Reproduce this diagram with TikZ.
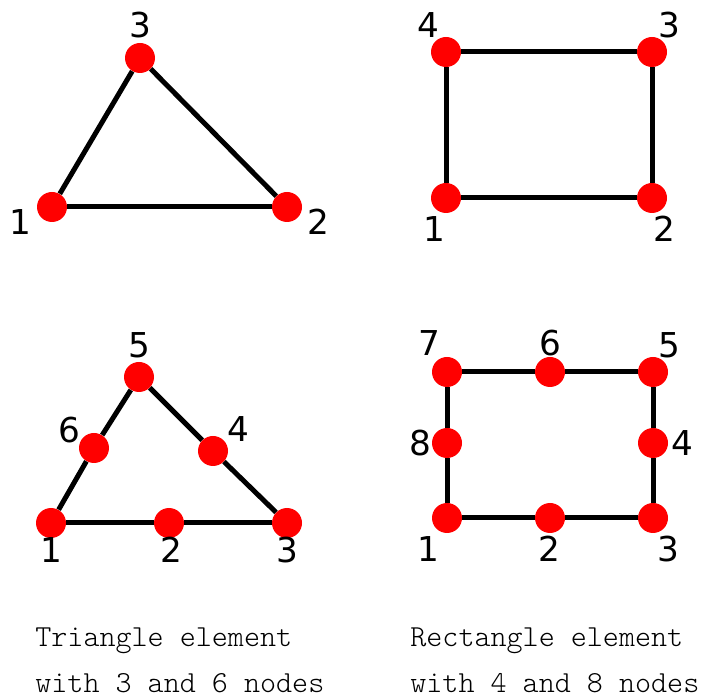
\documentclass[tikz,border=0pt]{standalone}
\usepackage{fontspec}
\newfontfamily\numfont{DejaVu Sans}
\newfontfamily\capfont{Latin Modern Mono Light}
\begin{document}
\begin{tikzpicture}[
        x=0.2mm, y=-0.2mm,
        dot/.style={circle, fill=red, inner sep=0pt, minimum size=6mm},
        edge/.style={line width=1mm, black},
        num/.style={inner sep=0pt, font=\numfont\fontsize{19.5}{20}\selectfont},
        caption/.style={align=left, inner sep=0pt, font=\capfont\fontsize{17.4}{26}\selectfont}
    ]
        \useasboundingbox (0,0) rectangle (715,697);

        % triangle, 3 nodes
        \node[dot] (ta1) at (52,207) {};
        \node[dot] (ta2) at (287,207) {};
        \node[dot] (ta3) at (140,58) {};
        \draw[edge] (ta1) -- (ta2);
        \draw[edge] (ta2) -- (ta3);
        \draw[edge] (ta3) -- (ta1);
        \node[num] (ta1n) at (20,222) {1};
        \node[num] (ta2n) at (318,222) {2};
        \node[num] (ta3n) at (140,25) {3};

        % rectangle, 4 nodes
        \node[dot] (ra1) at (446,198) {};
        \node[dot] (ra2) at (652,198) {};
        \node[dot] (ra3) at (652,52) {};
        \node[dot] (ra4) at (446,52) {};
        \draw[edge] (ra1) -- (ra2);
        \draw[edge] (ra2) -- (ra3);
        \draw[edge] (ra3) -- (ra4);
        \draw[edge] (ra4) -- (ra1);
        \node[num] (ra1n) at (434,229) {1};
        \node[num] (ra2n) at (664,229) {2};
        \node[num] (ra3n) at (669,25) {3};
        \node[num] (ra4n) at (428,25) {4};

        % triangle, 6 nodes
        \node[dot] (tb1) at (51,523) {};
        \node[dot] (tb2) at (169,523) {};
        \node[dot] (tb3) at (287,523) {};
        \node[dot] (tb4) at (213,451) {};
        \node[dot] (tb5) at (139,377) {};
        \node[dot] (tb6) at (94,448) {};
        \draw[edge] (tb1) -- (tb2);
        \draw[edge] (tb2) -- (tb3);
        \draw[edge] (tb3) -- (tb4);
        \draw[edge] (tb4) -- (tb5);
        \draw[edge] (tb5) -- (tb6);
        \draw[edge] (tb6) -- (tb1);
        \node[num] (tb1n) at (51,550) {1};
        \node[num] (tb2n) at (171,550) {2};
        \node[num] (tb3n) at (287,550) {3};
        \node[num] (tb4n) at (238,429) {4};
        \node[num] (tb5n) at (139,345) {5};
        \node[num] (tb6n) at (69,430) {6};

        % rectangle, 8 nodes
        \node[dot] (rb1) at (447,518) {};
        \node[dot] (rb2) at (550,518) {};
        \node[dot] (rb3) at (653,518) {};
        \node[dot] (rb4) at (653,443) {};
        \node[dot] (rb5) at (653,372) {};
        \node[dot] (rb6) at (550,372) {};
        \node[dot] (rb7) at (447,372) {};
        \node[dot] (rb8) at (447,443) {};
        \draw[edge] (rb1) -- (rb2);
        \draw[edge] (rb2) -- (rb3);
        \draw[edge] (rb3) -- (rb4);
        \draw[edge] (rb4) -- (rb5);
        \draw[edge] (rb5) -- (rb6);
        \draw[edge] (rb6) -- (rb7);
        \draw[edge] (rb7) -- (rb8);
        \draw[edge] (rb8) -- (rb1);
        \node[num] (rb1n) at (428,549) {1};
        \node[num] (rb2n) at (549,549) {2};
        \node[num] (rb3n) at (668,549) {3};
        \node[num] (rb4n) at (682,443) {4};
        \node[num] (rb5n) at (669,345) {5};
        \node[num] (rb6n) at (550,343) {6};
        \node[num] (rb7n) at (429,343) {7};
        \node[num] (rb8n) at (420,443) {8};

        % captions
        \node[caption, anchor=base west] (tcap) at (35,692) {Triangle element\\with 3 and 6 nodes};
        \node[caption, anchor=base west] (rcap) at (410,692) {Rectangle element\\with 4 and 8 nodes};
    \end{tikzpicture}
\end{document}
